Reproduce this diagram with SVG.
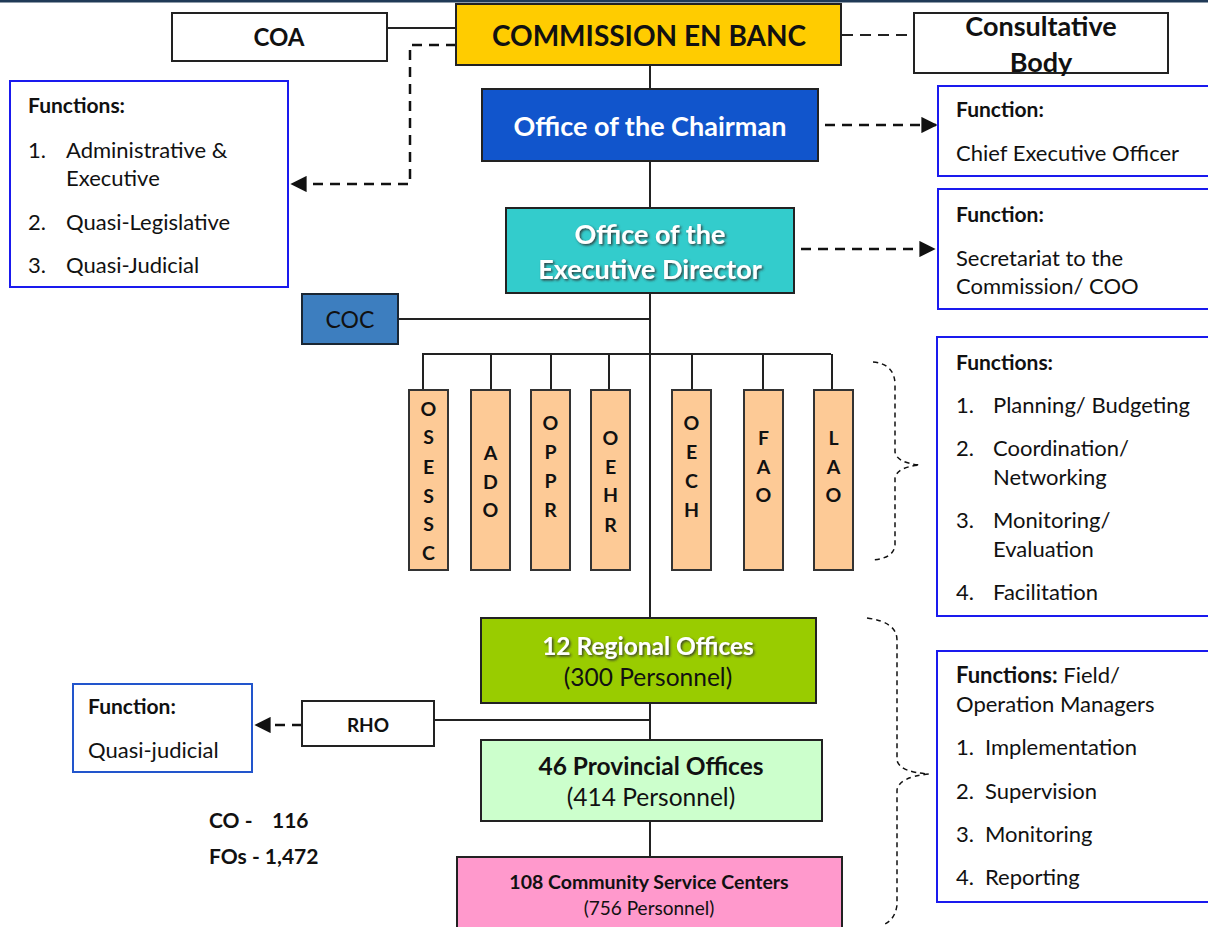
<svg xmlns="http://www.w3.org/2000/svg" width="1208" height="927" viewBox="0 0 1208 927">
<style>
text{font-family:Lato,"Open Sans","Liberation Sans",sans-serif;fill:#111}
.b{font-weight:bold}
.c{text-anchor:middle}
.w{fill:#fff}
.box{stroke:#222;stroke-width:2}
.fn{fill:#fff;stroke:#1a1aee;stroke-width:2}
.ln{stroke:#222;stroke-width:2;fill:none}
.da{stroke:#111;stroke-width:2.5;fill:none;stroke-dasharray:10 7}
.br{stroke:#111;stroke-width:1.5;fill:none;stroke-dasharray:5 4}
.org{fill:#fdca96;stroke:#333;stroke-width:2}
.ft{font-size:22px}
.hd{font-size:21px;font-weight:bold}
.lt{font-size:19.5px;font-weight:bold;text-anchor:middle}
</style>
<defs>
<marker id="ah" viewBox="0 0 10 10" refX="9" refY="5" markerWidth="6.5" markerHeight="6.5" orient="auto" markerUnits="strokeWidth">
<path d="M0,0 L10,5 L0,10 z" fill="#111"/>
</marker>
<filter id="sh" x="-10%" y="-30%" width="120%" height="160%">
<feDropShadow dx="1.5" dy="1.5" stdDeviation="0.8" flood-color="#333" flood-opacity="0.9"/>
</filter>
</defs>
<rect x="0" y="0" width="1208" height="2.5" fill="#203a57"/>

<g id="connectors">
<line class="ln" x1="650" y1="65" x2="650" y2="88"/>
<line class="ln" x1="650" y1="161" x2="650" y2="208"/>
<line class="ln" x1="650" y1="293" x2="650" y2="618"/>
<line class="ln" x1="387" y1="28" x2="456" y2="28"/>
<line class="ln" x1="398" y1="319" x2="650" y2="319"/>
<line class="ln" x1="422" y1="354" x2="831" y2="354"/>
<line class="ln" x1="423" y1="354" x2="423" y2="390"/>
<line class="ln" x1="491" y1="354" x2="491" y2="390"/>
<line class="ln" x1="551" y1="354" x2="551" y2="390"/>
<line class="ln" x1="609" y1="354" x2="609" y2="390"/>
<line class="ln" x1="692" y1="354" x2="692" y2="390"/>
<line class="ln" x1="763" y1="354" x2="763" y2="390"/>
<line class="ln" x1="832" y1="354" x2="832" y2="390"/>
<line class="ln" x1="650" y1="703" x2="650" y2="740"/>
<line class="ln" x1="650" y1="821" x2="650" y2="857"/>
<line class="ln" x1="434" y1="720" x2="650" y2="720"/>
<line x1="842" y1="35" x2="914" y2="35" stroke="#222" stroke-width="1.8" stroke-dasharray="11 7"/>
<path class="da" d="M456,45 H410 V184 H292" marker-end="url(#ah)"/>
<path class="da" d="M825,125 H936" marker-end="url(#ah)"/>
<path class="da" d="M801,249 H934" marker-end="url(#ah)"/>
<path class="da" d="M302,725 H256" marker-end="url(#ah)"/>
<path class="br" d="M873,362 Q895,364 895,385 L895,452 Q897,463 920,465 Q897,467 895,478 L895,545 Q894,558 873,560"/>
<path class="br" d="M867,618 Q897,622 897,640 L897,760 Q899,772 929,774 Q899,777 897,790 L897,905 Q895,920 883,925"/>
</g>

<g id="commission">
<rect x="456" y="4" width="385" height="61" fill="#ffcc00" class="box"/>
<text x="649" y="46" class="b c" font-size="28">COMMISSION EN BANC</text>
</g>
<g id="coa">
<rect x="172" y="13" width="215" height="48" fill="#fff" class="box"/>
<text x="279" y="46" class="b c" font-size="24">COA</text>
</g>
<g id="consultative">
<rect x="914" y="13" width="254" height="60" fill="#fff" class="box"/>
<text x="1041" y="36" class="b c" font-size="27">Consultative</text>
<text x="1041" y="72" class="b c" font-size="27">Body</text>
</g>
<g id="functions-commission">
<rect x="10" y="81" width="278" height="206" class="fn"/>
<text x="28" y="113" class="hd">Functions:</text>
<text x="28" y="158" class="ft">1.</text>
<text x="66" y="158" class="ft">Administrative &amp;</text>
<text x="66" y="186" class="ft">Executive</text>
<text x="28" y="230" class="ft">2.</text>
<text x="66" y="230" class="ft">Quasi-Legislative</text>
<text x="28" y="273" class="ft">3.</text>
<text x="66" y="273" class="ft">Quasi-Judicial</text>
</g>
<g id="chairman">
<rect x="482" y="89" width="336" height="72" fill="#1155cc" class="box"/>
<text x="650" y="136" class="b c w" font-size="27">Office of the Chairman</text>
</g>
<g id="function-chairman">
<rect x="938" y="86" width="275" height="90" class="fn"/>
<text x="956" y="117" class="hd">Function:</text>
<text x="956" y="161" class="ft">Chief Executive Officer</text>
</g>
<g id="exec-director">
<rect x="506" y="208" width="288" height="85" fill="#33cccc" class="box"/>
<g filter="url(#sh)">
<text x="650" y="244" class="b c w" font-size="27">Office of the</text>
<text x="650" y="279" class="b c w" font-size="27">Executive Director</text>
</g>
</g>
<g id="function-exec">
<rect x="938" y="189" width="275" height="120" class="fn"/>
<text x="956" y="222" class="hd">Function:</text>
<text x="956" y="266" class="ft">Secretariat to the</text>
<text x="956" y="294" class="ft">Commission/ COO</text>
</g>
<g id="coc">
<rect x="302" y="294" width="96" height="50" fill="#3d7ebf" stroke="#1a2633" stroke-width="2"/>
<text x="350" y="328" class="c" font-size="23">COC</text>
</g>
<g id="osessc">
<rect x="409" y="390" width="39" height="180" class="org"/>
<text class="lt" x="428.5" y="416">O</text><text class="lt" x="428.5" y="444">S</text><text class="lt" x="428.5" y="474">E</text><text class="lt" x="428.5" y="503">S</text><text class="lt" x="428.5" y="531">S</text><text class="lt" x="428.5" y="560">C</text>
</g>
<g id="ado">
<rect x="471" y="390" width="39" height="180" class="org"/>
<text class="lt" x="490.5" y="460">A</text><text class="lt" x="490.5" y="489">D</text><text class="lt" x="490.5" y="517">O</text>
</g>
<g id="oppr">
<rect x="531" y="390" width="39" height="180" class="org"/>
<text class="lt" x="550.5" y="430">O</text><text class="lt" x="550.5" y="459">P</text><text class="lt" x="550.5" y="488">P</text><text class="lt" x="550.5" y="517">R</text>
</g>
<g id="oehr">
<rect x="591" y="390" width="39" height="180" class="org"/>
<text class="lt" x="610.5" y="445">O</text><text class="lt" x="610.5" y="474">E</text><text class="lt" x="610.5" y="502">H</text><text class="lt" x="610.5" y="532">R</text>
</g>
<g id="oech">
<rect x="672" y="390" width="39" height="180" class="org"/>
<text class="lt" x="691.5" y="430">O</text><text class="lt" x="691.5" y="459">E</text><text class="lt" x="691.5" y="488">C</text><text class="lt" x="691.5" y="517">H</text>
</g>
<g id="fao">
<rect x="744" y="390" width="39" height="180" class="org"/>
<text class="lt" x="763.5" y="445">F</text><text class="lt" x="763.5" y="474">A</text><text class="lt" x="763.5" y="502">O</text>
</g>
<g id="lao">
<rect x="814" y="390" width="39" height="180" class="org"/>
<text class="lt" x="833.5" y="445">L</text><text class="lt" x="833.5" y="474">A</text><text class="lt" x="833.5" y="502">O</text>
</g>
<g id="functions-staff">
<rect x="937" y="337" width="276" height="279" class="fn"/>
<text x="956" y="370" class="hd">Functions:</text>
<text x="956" y="413" class="ft">1.</text><text x="993" y="413" class="ft">Planning/ Budgeting</text>
<text x="956" y="456" class="ft">2.</text><text x="993" y="456" class="ft">Coordination/</text>
<text x="993" y="485" class="ft">Networking</text>
<text x="956" y="528" class="ft">3.</text><text x="993" y="528" class="ft">Monitoring/</text>
<text x="993" y="557" class="ft">Evaluation</text>
<text x="956" y="600" class="ft">4.</text><text x="993" y="600" class="ft">Facilitation</text>
</g>
<g id="regional">
<rect x="481" y="618" width="335" height="85" fill="#99cc00" class="box"/>
<text x="648" y="655" class="b c w" font-size="24.5" filter="url(#sh)">12 Regional Offices</text>
<text x="648" y="686" class="c" font-size="24.5">(300 Personnel)</text>
</g>
<g id="rho">
<rect x="302" y="701" width="132" height="45" fill="#fff" class="box"/>
<text x="368" y="732" class="b c" font-size="19">RHO</text>
</g>
<g id="function-rho">
<rect x="73" y="684" width="179" height="88" fill="#fff" stroke="#2255cc" stroke-width="2"/>
<text x="88" y="714" class="hd">Function:</text>
<text x="88" y="758" class="ft">Quasi-judicial</text>
</g>
<g id="provincial">
<rect x="481" y="740" width="341" height="81" fill="#ccffcc" class="box"/>
<text x="651" y="775" class="b c" font-size="24.5">46 Provincial Offices</text>
<text x="651" y="806" class="c" font-size="24.5">(414 Personnel)</text>
</g>
<g id="csc">
<rect x="457" y="857" width="385" height="80" fill="#ff99cc" class="box"/>
<text x="649" y="889" class="b c" font-size="19.5">108 Community Service Centers</text>
<text x="649" y="915" class="c" font-size="19">(756 Personnel)</text>
</g>
<g id="functions-field">
<rect x="937" y="651" width="276" height="251" class="fn"/>
<text x="956" y="683" font-size="22"><tspan class="b">Functions:</tspan> Field/</text>
<text x="956" y="712" class="ft">Operation Managers</text>
<text x="956" y="755" class="ft">1.</text><text x="985" y="755" class="ft">Implementation</text>
<text x="956" y="799" class="ft">2.</text><text x="985" y="799" class="ft">Supervision</text>
<text x="956" y="842" class="ft">3.</text><text x="985" y="842" class="ft">Monitoring</text>
<text x="956" y="885" class="ft">4.</text><text x="985" y="885" class="ft">Reporting</text>
</g>
<g id="totals">
<text x="209" y="828" class="b" font-size="21">CO -</text>
<text x="272" y="828" class="b" font-size="21">116</text>
<text x="209" y="864" class="b" font-size="21">FOs - 1,472</text>
</g>
</svg>
